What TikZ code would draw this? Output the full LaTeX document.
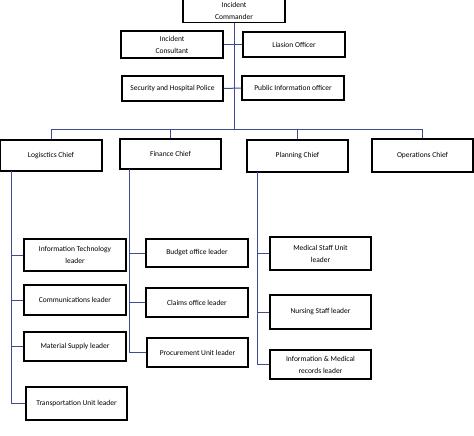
\documentclass[tikz,border=0pt]{standalone}
\usepackage{fontspec}
\setmainfont{Carlito}
\usepackage{tikz}
\usetikzlibrary{positioning}

\definecolor{linkblue}{RGB}{62,76,150}

\tikzset{
  post/.style={draw=black,line width=1.25pt,inner sep=0pt,align=center,
    font=\fontsize{7.5}{12}\selectfont},
  link/.style={draw=linkblue,line width=1pt}
}

\begin{document}
\begin{tikzpicture}[x=1pt,y=-1pt]
\useasboundingbox (0,0) rectangle (474,436);

% command staff
\node[post,minimum width=102pt,minimum height=23pt] (cmd) at (234,11) {Incident\\Commander};
\node[post,minimum width=102pt,minimum height=27pt] (cons) at (172,44.5) {Incident\\Consultant};
\node[post,minimum width=102pt,minimum height=25pt] (liaison) at (294,44.5) {Liasion Officer};
\node[post,minimum width=101pt,minimum height=25pt] (secur) at (172.5,88.5) {Security and Hospital Police};
\node[post,minimum width=102pt,minimum height=24pt] (pubinfo) at (293,88) {Public Information officer};

% chiefs
\node[post,minimum width=102pt,minimum height=31pt] (logist) at (51,155.5) {Logisctics Chief};
\node[post,minimum width=101pt,minimum height=30pt] (finance) at (170.5,154) {Finance Chief};
\node[post,minimum width=101pt,minimum height=32pt] (planning) at (297.5,156) {Planning Chief};
\node[post,minimum width=101pt,minimum height=33pt] (ops) at (422.5,155.5) {Operations Chief};

% logistics units
\node[post,minimum width=102pt,minimum height=32pt] (it) at (75,255) {Information Technology\\leader};
\node[post,minimum width=102pt,minimum height=30pt] (comm) at (75,300) {Communications leader};
\node[post,minimum width=102pt,minimum height=29pt] (supply) at (75,346.5) {Material Supply leader};
\node[post,minimum width=101pt,minimum height=33pt] (transp) at (76.5,403.5) {Transportation Unit leader};

% finance units
\node[post,minimum width=102pt,minimum height=28pt] (budget) at (197,253) {Budget office leader};
\node[post,minimum width=102pt,minimum height=29pt] (claims) at (197,302.5) {Claims office leader};
\node[post,minimum width=101pt,minimum height=29pt] (procure) at (197.5,352.5) {Procurement Unit leader};

% planning units
\node[post,minimum width=101pt,minimum height=33pt] (medstaff) at (320.5,253.5) {Medical Staff Unit\\leader};
\node[post,minimum width=101pt,minimum height=34pt] (nursing) at (320.5,312) {Nursing Staff leader};
\node[post,minimum width=101pt,minimum height=29pt] (records) at (320.5,364.5) {Information \& Medical\\records leader};

\coordinate (bus) at (234,129);
\coordinate (lg) at (11,171);
\coordinate (fn) at (129,169);
\coordinate (pl) at (257,172);

\path[link] (cmd) -- (bus);
\path[link] (cons) -- (liaison);
\path[link] (secur) -- (pubinfo);
\path[link] (bus) -| (logist);
\path[link] (bus) -| (finance);
\path[link] (bus) -| (planning);
\path[link] (bus) -| (ops);

\path[link] (lg) |- (it);
\path[link] (lg) |- (comm);
\path[link] (lg) |- (supply);
\path[link] (lg) |- (transp);

\path[link] (fn) |- (budget);
\path[link] (fn) |- (claims);
\path[link] (fn) |- (procure);

\path[link] (pl) |- (medstaff);
\path[link] (pl) |- (nursing);
\path[link] (pl) |- (records);

\end{tikzpicture}
\end{document}
